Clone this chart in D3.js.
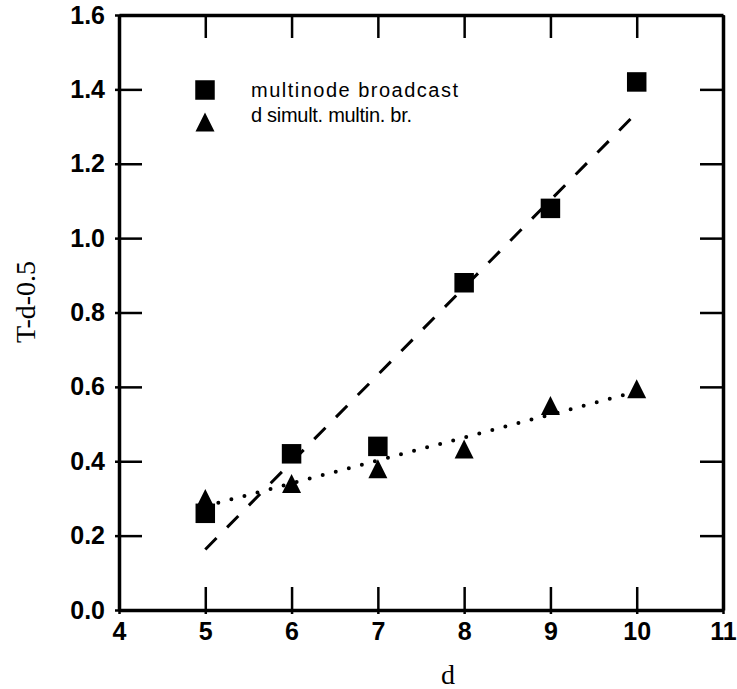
<!DOCTYPE html>
<html>
<head>
<meta charset="utf-8">
<script src="https://cdn.jsdelivr.net/npm/d3@7"></script>
<style>
  html, body { margin: 0; padding: 0; background: #fff; }
  svg { display: block; }
</style>
</head>
<body>
<svg id="chart" width="737" height="689"></svg>
<script>
// Dimension d of the hypercube
const dValues = [5, 6, 7, 8, 9, 10];
// T - d - 0.5 for a single multinode broadcast
const multinodeBroadcast = [0.26, 0.42, 0.44, 0.88, 1.08, 1.42];
// T - d - 0.5 for d simultaneous multinode broadcasts
const simultMultinode = [0.30, 0.34, 0.38, 0.433, 0.55, 0.595];

const xTicks = [4, 5, 6, 7, 8, 9, 10, 11];
const yTicks = [0.0, 0.2, 0.4, 0.6, 0.8, 1.0, 1.2, 1.4, 1.6];
const legendLabels = ["multinode broadcast", "d simult. multin. br."];

(function () {
  const svg = d3.select("#chart");
  const x = d3.scaleLinear().domain([4, 11]).range([119, 723]);
  const y = d3.scaleLinear().domain([0, 1.6]).range([610, 15]);

  const tickFont = "'Liberation Sans', Arial, Helvetica, sans-serif";
  const serif = "'Liberation Serif', 'Times New Roman', serif";

  // Least-squares straight line through a series
  function fitLine(xs, ys) {
    const n = xs.length;
    const mx = d3.mean(xs), my = d3.mean(ys);
    let sxy = 0, sxx = 0;
    for (let i = 0; i < n; i++) {
      sxy += (xs[i] - mx) * (ys[i] - my);
      sxx += (xs[i] - mx) * (xs[i] - mx);
    }
    const b = sxy / sxx, a = my - b * mx;
    const x0 = d3.min(xs), x1 = d3.max(xs);
    return [[x0, a + b * x0], [x1, a + b * x1]];
  }

  const line = d3.line().x(d => x(d[0])).y(d => y(d[1]));

  // Trend lines
  svg.append("path")
    .attr("d", line(fitLine(dValues, multinodeBroadcast)))
    .attr("fill", "none").attr("stroke", "#000")
    .attr("stroke-width", 3).attr("stroke-dasharray", "16 15");

  svg.append("path")
    .attr("d", line(fitLine(dValues, simultMultinode)))
    .attr("fill", "none").attr("stroke", "#000")
    .attr("stroke-width", 4).attr("stroke-linecap", "round")
    .attr("stroke-dasharray", "0 13.5");

  // Axes with inward ticks on all four sides
  function styleAxis(g) {
    g.select(".domain").attr("stroke-width", 3.5);
    g.selectAll(".tick line").attr("stroke-width", 2.5);
  }
  const inner = 23;

  const axBottom = svg.append("g").attr("transform", `translate(0,${y(0)})`)
    .call(d3.axisBottom(x).tickValues(xTicks).tickSizeInner(-inner).tickSizeOuter(0).tickPadding(12)
      .tickFormat(d3.format("d")));
  styleAxis(axBottom);
  axBottom.selectAll(".tick text")
    .attr("font-family", tickFont).attr("font-weight", "bold").attr("font-size", 25).attr("fill", "#000");

  const axTop = svg.append("g").attr("transform", `translate(0,${y(1.6)})`)
    .call(d3.axisTop(x).tickValues(xTicks).tickSizeInner(-inner).tickSizeOuter(0).tickFormat(""));
  styleAxis(axTop);

  const axLeft = svg.append("g").attr("transform", `translate(${x(4)},0)`)
    .call(d3.axisLeft(y).tickValues(yTicks).tickSizeInner(-inner).tickSizeOuter(0).tickPadding(14)
      .tickFormat(d3.format(".1f")));
  styleAxis(axLeft);
  axLeft.selectAll(".tick text")
    .attr("font-family", tickFont).attr("font-weight", "bold").attr("font-size", 25).attr("fill", "#000");

  const axRight = svg.append("g").attr("transform", `translate(${x(11)},0)`)
    .call(d3.axisRight(y).tickValues(yTicks).tickSizeInner(-inner).tickSizeOuter(0).tickFormat(""));
  styleAxis(axRight);

  // Small outward stubs at each tick
  axBottom.selectAll(".tick").append("line").attr("y2", 4).attr("stroke", "#000").attr("stroke-width", 2.5);
  axLeft.selectAll(".tick").append("line").attr("x2", -4).attr("stroke", "#000").attr("stroke-width", 2.5);

  // Axis titles
  svg.append("text")
    .attr("x", 448).attr("y", 684)
    .attr("text-anchor", "middle")
    .attr("font-family", serif).attr("font-size", 28).attr("fill", "#000")
    .text("d");

  svg.append("text")
    .attr("transform", "translate(35,302) rotate(-90)")
    .attr("text-anchor", "middle")
    .attr("font-family", serif).attr("font-size", 28).attr("fill", "#000")
    .text("T-d-0.5");

  // Markers
  const sq = 19.5;
  const triangle = {
    draw(ctx, size) {
      const w = Math.sqrt(size), h = w;
      ctx.moveTo(0, -h / 2);
      ctx.lineTo(w / 2, h / 2);
      ctx.lineTo(-w / 2, h / 2);
      ctx.closePath();
    }
  };
  const squareSym = d3.symbol().type(d3.symbolSquare).size(sq * sq);
  const triSym = d3.symbol().type(triangle).size(19 * 19);

  svg.append("g").selectAll("path")
    .data(dValues.map((d, i) => [d, simultMultinode[i]]))
    .join("path")
    .attr("transform", d => `translate(${x(d[0])},${y(d[1])})`)
    .attr("d", triSym).attr("fill", "#000");

  svg.append("g").selectAll("path")
    .data(dValues.map((d, i) => [d, multinodeBroadcast[i]]))
    .join("path")
    .attr("transform", d => `translate(${x(d[0])},${y(d[1])})`)
    .attr("d", squareSym).attr("fill", "#000");

  // Legend
  const legend = svg.append("g");
  legend.append("path").attr("transform", "translate(205,90)").attr("d", squareSym).attr("fill", "#000");
  legend.append("path").attr("transform", "translate(205,122)").attr("d", triSym).attr("fill", "#000");
  legend.append("text")
    .attr("x", 251).attr("y", 97)
    .attr("font-family", tickFont).attr("font-size", 20).attr("fill", "#000")
    .attr("textLength", 207).attr("lengthAdjust", "spacing")
    .text(legendLabels[0]);
  legend.append("text")
    .attr("x", 251).attr("y", 122)
    .attr("font-family", tickFont).attr("font-size", 20).attr("fill", "#000")
    .attr("textLength", 161).attr("lengthAdjust", "spacing")
    .text(legendLabels[1]);
})();
</script>
</body>
</html>
